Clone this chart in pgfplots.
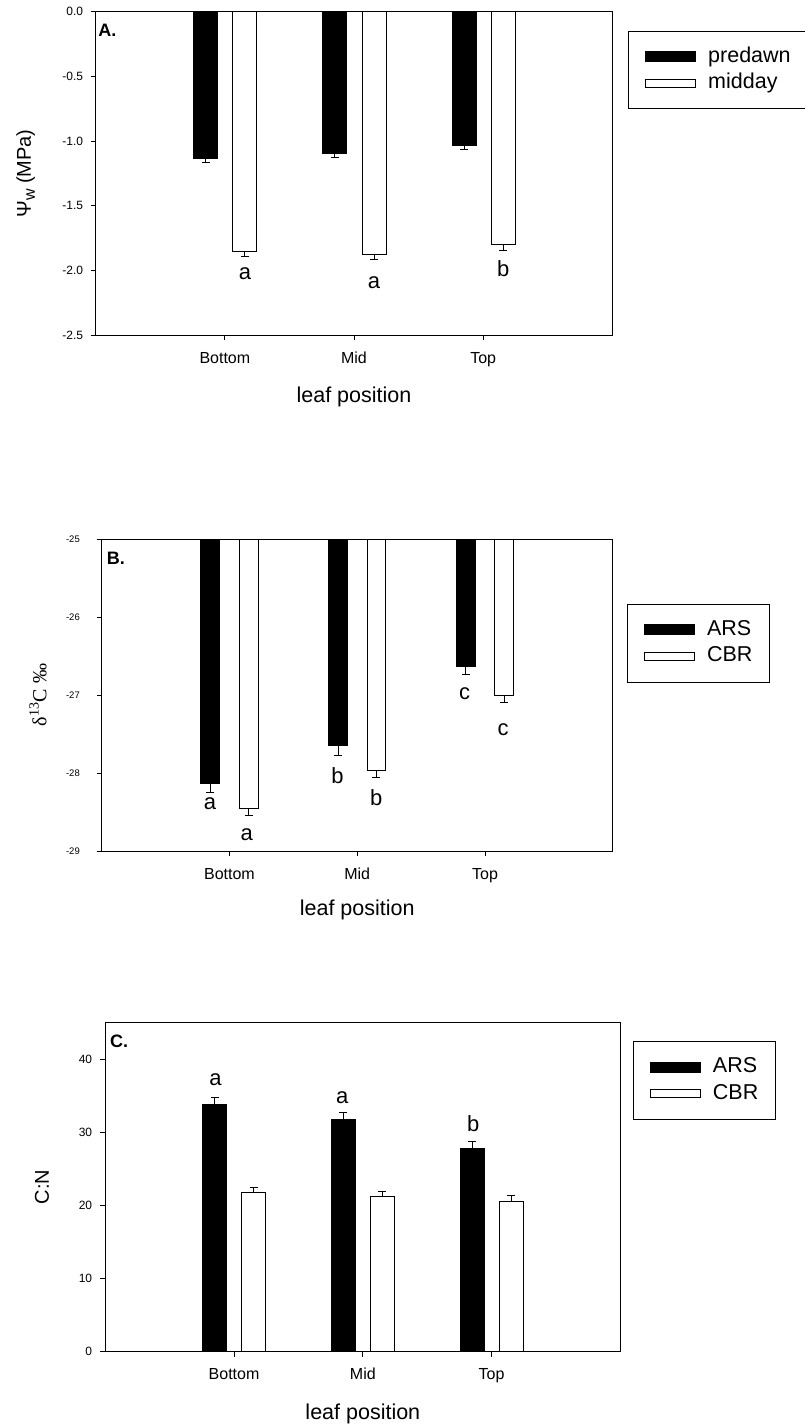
\documentclass[border=0pt]{standalone}
\usepackage{fontspec}
\setmainfont{Liberation Sans}
\newfontfamily\seriffont{Liberation Serif}
\usepackage{pgfplots}
\usepackage{pgfplotstable}
\pgfplotsset{compat=1.18}

% leaf water potential (MPa), mean and SE
\pgfplotstableread{
x y e
0 -1.133 0.031
1 -1.092 0.031
2 -1.030 0.034
}\predawn
\pgfplotstableread{
x y e
0 -1.849 0.044
1 -1.875 0.041
2 -1.800 0.044
}\midday
% carbon isotope ratio (per mil)
\pgfplotstableread{
x y e
0 -28.128 0.120
1 -27.645 0.130
2 -26.637 0.100
}\dARS
\pgfplotstableread{
x y e
0 -28.453 0.085
1 -27.970 0.086
2 -27.000 0.100
}\dCBR
% C:N ratio
\pgfplotstableread{
x y e
0 33.77 1.00
1 31.77 0.87
2 27.81 0.87
}\cnARS
\pgfplotstableread{
x y e
0 21.77 0.64
1 21.23 0.64
2 20.59 0.73
}\cnCBR

\newcommand\fs[1]{\fontsize{#1}{#1}\selectfont}

\pgfplotsset{
  panel/.style={
    scale only axis,
    anchor=south west,
    xmin=-1, xmax=3,
    xtick={0,1,2},
    xticklabels={Bottom,Mid,Top},
    axis line style={line width=0.8pt, black},
    tick style={line width=0.8pt, black},
    major tick length=5pt,
    tick align=outside,
    tick pos=left,
    x tick label style={font=\fs{16}, anchor=base, yshift=-23.1pt},
    y tick label style={anchor=east, inner sep=0pt},
    xlabel={leaf position},
    every axis x label/.style={at={(axis description cs:0.5,-0.189)}, anchor=center, font=\fs{21.5}},
    legend cell align=left,
    legend style={anchor=north west, draw=black, line width=0.8pt, fill=white,
      inner xsep=16.7pt, inner ysep=15.5pt, font=\fs{21.5},
      nodes={inner sep=0pt, text height=15.5pt, text depth=4.5pt},
      row sep=6.6pt, column sep=12pt},
  },
  % bars are placed at category + offset, so error bars sit on the bar centres
  darkbar/.style={ybar, bar shift=0pt, fill=black, draw=black, line width=0.8pt,
    legend image code/.code={\draw[fill=black, draw=black, line width=0.8pt] (0pt,-5pt) rectangle (50pt,5pt);}},
  lightbar/.style={ybar, bar shift=0pt, fill=white, draw=black, line width=0.8pt,
    legend image code/.code={\draw[fill=white, draw=black, line width=0.8pt] (0pt,-4.2pt) rectangle (50pt,4.2pt);}},
  errdown/.style={error bars/.cd, y dir=minus, y explicit,
    error bar style={line width=0.8pt, black},
    error mark options={rotate=90, mark size=4pt, line width=0.8pt, black}},
  errup/.style={error bars/.cd, y dir=plus, y explicit,
    error bar style={line width=0.8pt, black},
    error mark options={rotate=90, mark size=4pt, line width=0.8pt, black}},
}

\begin{document}
\begin{tikzpicture}
\path[use as bounding box] (0pt,0pt) rectangle (804pt,-1426pt);

% ---------- A: water potential ----------
\begin{axis}[panel,
  at={(95.7pt,-335.3pt)}, width=516.6pt, height=323.6pt,
  ymin=-2.5, ymax=0,
  ytick={0,-0.5,-1,-1.5,-2,-2.5},
  yticklabels={0.0,-0.5,-1.0,-1.5,-2.0,-2.5},
  y tick label style={font=\fs{12}, xshift=-7.4pt},
  ylabel={Ψ\raisebox{-4pt}{\fs{16}w} (MPa)},
  every axis y label/.style={at={(axis description cs:-0.1353,0.5)}, rotate=90, anchor=center, font=\fs{20}},
  legend style={at={(axis description cs:1.031,0.9413)}},
]
\addplot[darkbar, bar width=0.186, errdown] table[x expr=\thisrow{x}-0.148, y=y, y error=e] {\predawn};
\addplot[lightbar, bar width=0.186, errdown] table[x expr=\thisrow{x}+0.155, y=y, y error=e] {\midday};
\legend{predawn, midday}
\node[font=\fs{22}] at (axis cs:0.155,-2.027) {a};
\node[font=\fs{22}] at (axis cs:1.155,-2.094) {a};
\node[font=\fs{22}] at (axis cs:2.155,-1.983) {b};
\node[anchor=west, inner sep=0pt, font=\bfseries\fs{18}] at (axis description cs:0.005,0.941) {A.};
\end{axis}

% ---------- B: delta 13C ----------
\begin{axis}[panel,
  at={(101.7pt,-851pt)}, width=511.1pt, height=312pt,
  ymin=-29, ymax=-25,
  ytick={-25,-26,-27,-28,-29},
  yticklabels={-25,-26,-27,-28,-29},
  y tick label style={font=\fs{9.5}, xshift=-16.7pt},
  ylabel={\seriffont δ\textsuperscript{13}C ‰},
  every axis y label/.style={at={(axis description cs:-0.1246,0.5)}, rotate=90, anchor=center, font=\fs{20}},
  legend style={at={(axis description cs:1.028,0.7917)}},
]
\addplot[darkbar, bar width=0.148, errdown] table[x expr=\thisrow{x}-0.15, y=y, y error=e] {\dARS};
\addplot[lightbar, bar width=0.148, errdown] table[x expr=\thisrow{x}+0.15, y=y, y error=e] {\dCBR};
\legend{ARS, CBR}
\node[font=\fs{22}] at (axis cs:-0.152,-28.397) {a};
\node[font=\fs{22}] at (axis cs:0.135,-28.786) {a};
\node[font=\fs{22}] at (axis cs:0.846,-28.040) {b};
\node[font=\fs{22}] at (axis cs:1.148,-28.317) {b};
\node[font=\fs{22}] at (axis cs:1.840,-26.987) {c};
\node[font=\fs{22}] at (axis cs:2.142,-27.440) {c};
\node[anchor=west, inner sep=0pt, font=\bfseries\fs{18}] at (axis description cs:0.0098,0.938) {B.};
\end{axis}

% ---------- C: C:N ratio ----------
\begin{axis}[panel,
  at={(105.3pt,-1351.7pt)}, width=515.1pt, height=329.4pt,
  ymin=0, ymax=45,
  ytick={0,10,20,30,40},
  yticklabels={0,10,20,30,40},
  y tick label style={font=\fs{12}, xshift=-8pt},
  ylabel={C:N},
  every axis y label/.style={at={(axis description cs:-0.1229,0.5)}, rotate=90, anchor=center, font=\fs{20}},
  legend style={at={(axis description cs:1.0245,0.943)}},
]
\addplot[darkbar, bar width=0.186, errup] table[x expr=\thisrow{x}-0.152, y=y, y error=e] {\cnARS};
\addplot[lightbar, bar width=0.186, errup] table[x expr=\thisrow{x}+0.152, y=y, y error=e] {\cnCBR};
\legend{ARS, CBR}
\node[font=\fs{22}] at (axis cs:-0.145,37.18) {a};
\node[font=\fs{22}] at (axis cs:0.839,34.77) {a};
\node[font=\fs{22}] at (axis cs:1.857,31.14) {b};
\node[anchor=west, inner sep=0pt, font=\bfseries\fs{18}] at (axis description cs:0.009,0.941) {C.};
\end{axis}
\end{tikzpicture}
\end{document}
